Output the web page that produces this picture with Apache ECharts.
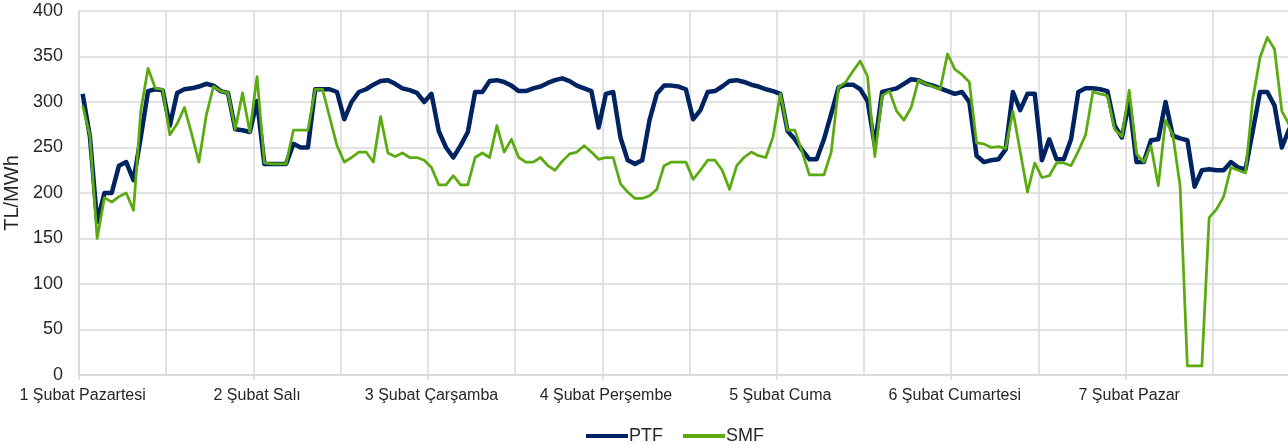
<!DOCTYPE html>
<html>
<head>
<meta charset="utf-8">
<script src="https://cdn.jsdelivr.net/npm/echarts@6/dist/echarts.min.js"></script>
<style>
html,body{margin:0;padding:0;background:#fff;}
#chart{width:1288px;height:446px;}
</style>
</head>
<body>
<div id="chart"></div>
<script>
const days = ["1 Şubat Pazartesi","2 Şubat Salı","3 Şubat Çarşamba","4 Şubat Perşembe","5 Şubat Cuma","6 Şubat Cumartesi","7 Şubat Pazar"];
const hoursPerDay = 24;
const yTicks = [0,50,100,150,200,250,300,350,400];

const ptf = [
309,262,168,200,200,230,234,214,261,312,314,313,274,310,314,315,317,320,318,312,310,270,269,267,
301,232,232,232,232,254,250,250,314,314,314,311,281,300,311,314,319,323,324,320,315,313,310,300,
309,268,250,239,252,267,311,311,323,324,322,318,312,312,315,317,321,324,326,323,318,315,312,272,
309,311,261,236,232,236,280,309,318,318,317,314,281,291,311,312,317,323,324,322,319,317,314,312,
309,268,259,247,237,237,259,287,316,319,319,314,301,252,311,313,315,320,325,324,320,318,315,312,
309,311,300,241,234,236,237,248,311,291,309,309,236,259,237,237,259,311,315,315,314,312,274,261,
301,234,234,258,259,300,263,260,258,207,225,226,225,225,234,228,226,268,311,311,296,250,270,280
];
const smf = [
296,263,150,195,190,196,200,181,290,337,315,314,264,276,294,265,234,285,317,312,310,270,310,267,
328,233,232,232,232,269,269,269,314,314,283,252,234,239,245,245,234,284,244,240,244,239,239,236,
228,209,209,219,209,209,239,244,239,274,245,259,239,234,234,239,230,225,235,243,245,252,245,237,
239,239,210,201,194,194,197,204,230,234,234,234,215,225,236,236,225,204,230,239,245,241,239,262,
309,269,269,245,220,220,220,245,316,322,334,345,328,240,307,312,290,280,294,324,320,317,314,353,
336,330,322,255,254,250,251,249,290,246,201,233,217,219,233,233,230,246,264,311,309,307,270,262,
313,243,234,252,208,280,264,208,10,10,10,173,182,196,228,225,222,303,349,371,358,290,275,270
];

const categories = [];
days.forEach(d => { for (let h = 0; h < hoursPerDay; h++) categories.push(d + "|" + h); });

const chart = echarts.init(document.getElementById('chart'), null, {renderer:'canvas'});
const font = "'Liberation Sans', Arial, sans-serif";
const gridColor = '#d9d9d9';
chart.setOption({
  animation:false,
  backgroundColor:'#ffffff',
  grid:{left:79, top:11, height:364, width:1221, containLabel:false, outerBoundsMode:'none'},
  legend:{
    left:581, top:422,
    itemWidth:42, itemHeight:4, itemGap:20,
    icon:'rect',
    textStyle:{fontFamily:font, fontSize:18, color:'#262626', padding:[0,0,0,-4]},
    data:[{name:'PTF'},{name:'SMF'}]
  },
  xAxis:{
    type:'category',
    data:categories,
    boundaryGap:true,
    axisLine:{show:true, lineStyle:{color:gridColor, width:1.5}},
    axisTick:{show:true, interval:hoursPerDay-1, length:5, lineStyle:{color:gridColor, width:1.5}},
    axisLabel:{
      interval:hoursPerDay-1, margin:13,
      fontFamily:font, fontSize:16, color:'#262626',
      formatter:v => v.split('|')[0]
    },
    splitLine:{show:true, interval:hoursPerDay/2-1, lineStyle:{color:gridColor, width:1.5}}
  },
  yAxis:{
    type:'value', min:yTicks[0], max:yTicks[yTicks.length-1], interval:50,
    name:'TL/MWh', nameLocation:'middle', nameGap:56, nameRotate:90,
    nameTextStyle:{fontFamily:font, fontSize:20, color:'#262626'},
    axisLine:{show:true, lineStyle:{color:gridColor, width:1.5}},
    axisTick:{show:false},
    axisLabel:{fontFamily:font, fontSize:18, color:'#262626', margin:16},
    splitLine:{show:true, lineStyle:{color:gridColor, width:1.5}}
  },
  series:[
    {name:'PTF', type:'line', data:ptf, showSymbol:false, symbol:'none',
     lineStyle:{color:'#002461', width:4.5, join:'round'}, itemStyle:{color:'#002461'}},
    {name:'SMF', type:'line', data:smf, showSymbol:false, symbol:'none',
     lineStyle:{color:'#5aaa10', width:2.75, join:'round'}, itemStyle:{color:'#5aaa10'}}
  ]
});
</script>
</body>
</html>
